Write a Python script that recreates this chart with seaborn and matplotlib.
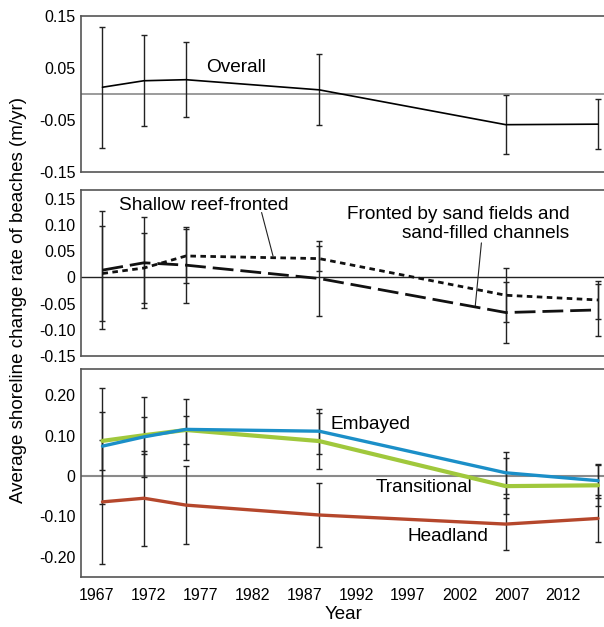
import matplotlib
matplotlib.use("Agg")
import matplotlib.pyplot as plt
import seaborn as sns
import numpy as np
import pandas as pd

sns.set_theme(style="white")
plt.rcParams['font.family'] = ['Liberation Sans', 'DejaVu Sans']
plt.rcParams['text.color'] = 'black'
plt.rcParams['axes.labelcolor'] = 'black'

# ---- data ----
years = [1967.55, 1971.55, 1975.6, 1988.45, 2006.45, 2015.35]

overall = [0.013, 0.0255, 0.0275, 0.008, -0.059, -0.058]
overall_err = [0.116, 0.0875, 0.0725, 0.068, 0.057, 0.048]

shallow = [0.0076, 0.018, 0.041, 0.036, -0.034, -0.043]
shallow_err = [0.090, 0.067, 0.051, 0.024, 0.052, 0.037]
sand = [0.014, 0.028, 0.0235, -0.002, -0.067, -0.062]
sand_err = [0.113, 0.087, 0.073, 0.072, 0.059, 0.050]

embayed = [0.074, 0.097, 0.1155, 0.111, 0.008, -0.0115]
embayed_err = [0.143, 0.099, 0.075, 0.056, 0.052, 0.0425]
transitional = [0.087, 0.101, 0.114, 0.0866, -0.025, -0.023]
transitional_err = [0.072, 0.046, 0.035, 0.070, 0.069, 0.050]
headland = [-0.064, -0.055, -0.072, -0.0965, -0.119, -0.105]
headland_err = [0.154, 0.118, 0.097, 0.0785, 0.064, 0.0575]

xticks = [1967, 1972, 1977, 1982, 1987, 1992, 1997, 2002, 2007, 2012]
p1_ticks = [0.15, 0.05, -0.05, -0.15]
p1_labels = ["0.15", "0.05", "-0.05", "-0.15"]
p2_ticks = [0.15, 0.10, 0.05, 0, -0.05, -0.10, -0.15]
p2_labels = ["0.15", "0.10", "0.05", "0", "-0.05", "-0.10", "-0.15"]
p3_ticks = [0.20, 0.10, 0, -0.10, -0.20]
p3_labels = ["0.20", "0.10", "0", "-0.10", "-0.20"]
p3_minor = [0.15, 0.05, -0.05, -0.15]

# ---- style ----
BLUE = "#1b8fc8"
GREEN = "#a0c83c"
RED = "#b5472c"
SPINE = "#555555"
TICK_FS = 11.5
ANN_FS = 13.7

W, H = 604, 627
fig = plt.figure(figsize=(W / 100, H / 100), dpi=100)
fig.patch.set_facecolor("white")

left = 81 / W
width = 1 - left + 0.003

def make_ax(top_px, bot_px):
    return fig.add_axes([left, 1 - bot_px / H, width, (bot_px - top_px) / H])

ax1 = make_ax(16, 172)
ax2 = make_ax(190, 356)
ax3 = make_ax(369, 577)

xlim = (1965.48, 2016.1)

for ax in (ax1, ax2, ax3):
    ax.set_xlim(*xlim)
    ax.set_xticks(xticks)
    for s in ("left", "top", "bottom"):
        ax.spines[s].set_color(SPINE)
        ax.spines[s].set_linewidth(1.2)
    ax.spines["right"].set_visible(False)
    ax.tick_params(axis="both", which="both", direction="in", color=SPINE,
                   width=1.0, labelsize=TICK_FS, colors="black")
    ax.tick_params(axis="x", length=10)
    ax.tick_params(axis="y", which="both", length=7, pad=4)
    ax.tick_params(axis="x", colors=SPINE, labelcolor="black")
    ax.tick_params(axis="y", which="both", colors=SPINE, labelcolor="black")
    ax.set_facecolor("white")
    ax.grid(False)

eb_kw = dict(fmt="none", ecolor="#222222", elinewidth=1.0, capsize=2.3, capthick=1.0, zorder=3)

# ---- panel 1 ----
ax1.axhline(0, color="#8a8a8a", lw=1.2, zorder=1)
ax1.errorbar(years, overall, yerr=overall_err, **eb_kw)
sns.lineplot(x=years, y=overall, ax=ax1, color="black", lw=1.2, zorder=4)
ax1.set_ylim(-0.15, 0.15)
ax1.set_yticks(p1_ticks)
ax1.set_yticklabels(p1_labels)
ax1.set_xticklabels([])
ax1.text(1980.4, 0.05, "Overall", fontsize=ANN_FS, ha="center", va="center")

# ---- panel 2 ----
ax2.axhline(0, color="#222222", lw=1.0, zorder=1)
ax2.errorbar(years, shallow, yerr=shallow_err, **eb_kw)
ax2.errorbar(years, sand, yerr=sand_err, **eb_kw)
sns.lineplot(x=years, y=shallow, ax=ax2, color="#111111", lw=2.0,
             linestyle=(0, (2.0, 1.6)), zorder=4)
sns.lineplot(x=years, y=sand, ax=ax2, color="#111111", lw=2.0,
             linestyle=(0, (7.5, 2.5)), zorder=4)
ax2.set_ylim(-0.15, 0.167)
ax2.set_yticks(p2_ticks)
ax2.set_yticklabels(p2_labels)
ax2.set_xticklabels([])
ax2.text(1977.3, 0.138, "Shallow reef-fronted", fontsize=ANN_FS, ha="center", va="center")
ax2.annotate("", xy=(1984.0, 0.041), xytext=(1982.9, 0.124),
             arrowprops=dict(arrowstyle="-", lw=0.8, color="#222222",
                             shrinkA=0, shrinkB=0))
ax2.text(2012.6, 0.102, "Fronted by sand fields and\nsand-filled channels",
         fontsize=ANN_FS, ha="right", va="center", multialignment="right",
         linespacing=1.15)
ax2.annotate("", xy=(2003.5, -0.056), xytext=(2004.1, 0.066),
             arrowprops=dict(arrowstyle="-", lw=0.8, color="#222222",
                             shrinkA=0, shrinkB=0))

# ---- panel 3 ----
ax3.axhline(0, color="#8a8a8a", lw=1.5, zorder=1)
ax3.errorbar(years, embayed, yerr=embayed_err, **eb_kw)
ax3.errorbar(years, transitional, yerr=transitional_err, **eb_kw)
ax3.errorbar(years, headland, yerr=headland_err, **eb_kw)
sns.lineplot(x=years, y=headland, ax=ax3, color=RED, lw=2.4, zorder=4)
sns.lineplot(x=years, y=transitional, ax=ax3, color=GREEN, lw=3.0, zorder=4)
sns.lineplot(x=years, y=embayed, ax=ax3, color=BLUE, lw=2.4, zorder=5)
ax3.set_ylim(-0.25, 0.265)
ax3.set_yticks(p3_ticks)
ax3.set_yticklabels(p3_labels)
ax3.set_yticks(p3_minor, minor=True)
ax3.set_xticklabels([str(t) for t in xticks])
ax3.tick_params(axis="x", pad=8)
ax3.set_xlabel("Year", fontsize=13.5, labelpad=2, color="black")
ax3.text(1993.4, 0.128, "Embayed", fontsize=ANN_FS, ha="center", va="center")
ax3.text(1998.6, -0.028, "Transitional", fontsize=ANN_FS, ha="center", va="center")
ax3.text(2000.9, -0.149, "Headland", fontsize=ANN_FS, ha="center", va="center")

for ax in (ax1, ax2, ax3):
    ax.set_ylabel("")

fig.text(0.03, 0.522, "Average shoreline change rate of beaches (m/yr)",
         rotation=90, ha="center", va="center", fontsize=13.5, color="black")

fig.savefig("out.png", dpi=100, facecolor="white")
